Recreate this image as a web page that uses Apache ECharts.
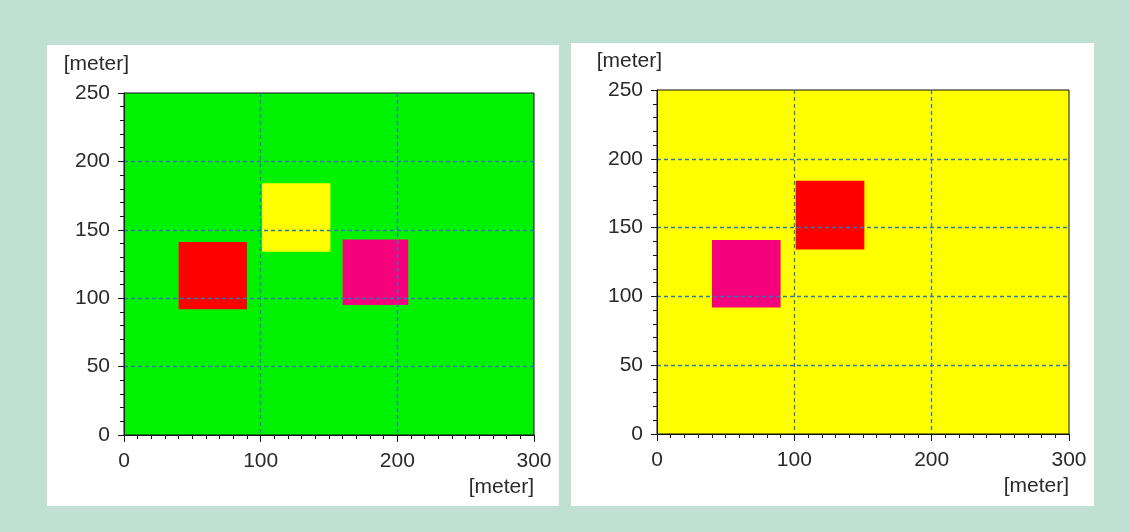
<!DOCTYPE html>
<html>
<head>
<meta charset="utf-8">
<script src="https://cdn.jsdelivr.net/npm/echarts@6/dist/echarts.min.js"></script>
<style>
  html, body { margin: 0; padding: 0; width: 1130px; height: 532px; background: #c0e0d4; overflow: hidden; }
  .panel { position: absolute; background: #ffffff; }
  #chart { position: absolute; left: 0; top: 0; width: 1130px; height: 532px; }
</style>
</head>
<body>
<div class="panel" style="left:47px; top:45px; width:512px; height:461px;"></div>
<div class="panel" style="left:571px; top:43px; width:523px; height:463px;"></div>
<div id="chart"></div>
<script>
// ---- data ----
const axisUnit = '[meter]';
const xMin = 0, xMax = 300, xInterval = 100;
const yMin = 0, yMax = 250, yInterval = 50;
// zones (meters): [x start, x end] and [y start, y end]
const zoneNames = ['zone A', 'zone B', 'zone C'];
const zoneX0 = [40, 101, 160];
const zoneX1 = [90, 151, 208];
const zoneY0 = [92, 134, 95];
const zoneY1 = [141, 184, 143];
// zones shown in each panel (indices into the arrays above)
const leftZones = [0, 1, 2];
const rightZones = [0, 1];

// ---- styles ----
const leftBg = '#00f200';
const rightBg = '#ffff00';
const leftColors = ['#ff0000', '#ffff00', '#f5007d'];
const rightColors = ['#f5007d', '#ff0000'];
const textColor = '#2a2a2a';
const fontFamily = 'Liberation Sans, Arial, sans-serif';
const gridLineColor = '#2f78b0';

function zoneData(indices) {
  return indices.map(i => ({ name: zoneNames[i], value: [zoneX0[i], zoneX1[i], zoneY0[i], zoneY1[i]] }));
}

function renderZone(colors) {
  return function (params, api) {
    const p0 = api.coord([api.value(0), api.value(3)]);
    const p1 = api.coord([api.value(1), api.value(2)]);
    return {
      type: 'rect',
      shape: { x: p0[0], y: p0[1], width: p1[0] - p0[0], height: p1[1] - p0[1] },
      style: { fill: colors[params.dataIndex] }
    };
  };
}

function xAxisCfg(gridIndex) {
  return {
    gridIndex, type: 'value', min: xMin, max: xMax, interval: xInterval, z: 5,
    name: axisUnit, nameLocation: 'end', nameGap: 0,
    nameTextStyle: { color: textColor, fontFamily, fontSize: 21, align: 'right', verticalAlign: 'top', padding: [42, 0, 0, 0] },
    axisLine: { show: true, lineStyle: { color: '#111', width: 1 } },
    axisTick: { show: true, inside: false, length: 7, lineStyle: { color: '#111' } },
    minorTick: { show: true, splitNumber: 10, length: 4, lineStyle: { color: '#111' } },
    axisLabel: { color: textColor, fontFamily, fontSize: 21, margin: 16 },
    splitLine: { show: true, showMinLine: false, showMaxLine: false, lineStyle: { color: gridLineColor, type: [4, 3], width: 1.3 } },
    minorSplitLine: { show: false }
  };
}

function yAxisCfg(gridIndex) {
  return {
    gridIndex, type: 'value', min: yMin, max: yMax, interval: yInterval, z: 5,
    name: axisUnit, nameLocation: 'end', nameGap: 18,
    nameTextStyle: { color: textColor, fontFamily, fontSize: 21, align: 'right', padding: [0, -5, 0, 0] },
    axisLine: { show: true, lineStyle: { color: '#111', width: 1 } },
    axisTick: { show: true, inside: false, length: 6, lineStyle: { color: '#111' } },
    minorTick: { show: true, splitNumber: 5, length: 4, lineStyle: { color: '#111' } },
    axisLabel: { color: textColor, fontFamily, fontSize: 21, margin: 14 },
    splitLine: { show: true, showMinLine: false, showMaxLine: false, lineStyle: { color: gridLineColor, type: [4, 3], width: 1.3 } },
    minorSplitLine: { show: false }
  };
}

const chart = echarts.init(document.getElementById('chart'), null, { renderer: 'canvas' });
chart.setOption({
  backgroundColor: 'transparent',
  animation: false,
  grid: [
    { left: 124, top: 93, width: 410, height: 342, show: true, backgroundColor: leftBg, borderColor: '#111', borderWidth: 1 },
    { left: 657, top: 90, width: 412, height: 344, show: true, backgroundColor: rightBg, borderColor: '#111', borderWidth: 1 }
  ],
  xAxis: [xAxisCfg(0), xAxisCfg(1)],
  yAxis: [yAxisCfg(0), yAxisCfg(1)],
  series: [
    { type: 'custom', xAxisIndex: 0, yAxisIndex: 0, renderItem: renderZone(leftColors), data: zoneData(leftZones), encode: { x: [0, 1], y: [2, 3] }, z: 2 },
    { type: 'custom', xAxisIndex: 1, yAxisIndex: 1, renderItem: renderZone(rightColors), data: zoneData(rightZones), encode: { x: [0, 1], y: [2, 3] }, z: 2 }
  ]
});
</script>
</body>
</html>
